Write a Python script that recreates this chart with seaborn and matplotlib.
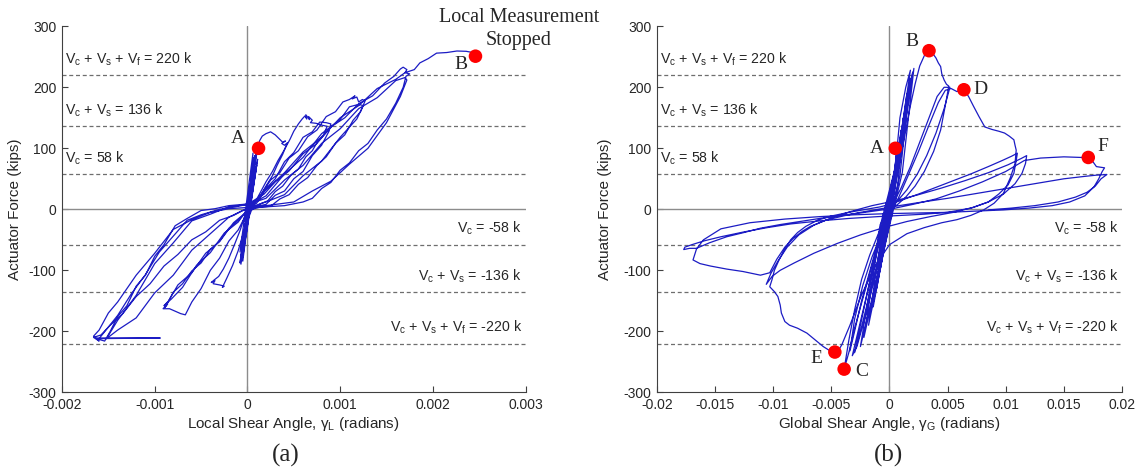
import numpy as np
import pandas as pd
import matplotlib
matplotlib.use("Agg")
import matplotlib.pyplot as plt
import seaborn as sns

# ---------------- local shear angle response (panel a) ----------------
# small elastic cycles near the origin
loc_band_g = [0, 0.00002, -0.00001, 0.00003, -0.00002, 0.00004, -0.00003, 0.00005, -0.00004,
              0.00006, -0.00005, 0.00007, -0.00002, 0.00008, -0.00006, 0.00005, -0.00004,
              0.00009, -0.00007, 0.00010, -0.00005, 0.00006, -0.00008, 0.00004, -0.00003,
              0.00007, -0.00006, 0.00003, -0.00004, 0.00008, -0.00002, 0.00011, -0.00007,
              0.00002, -0.00005, 0.00009, -0.00008, 0.00006, -0.00001, 0.00010, -0.00006,
              0.00004, -0.00003, 0.00001]
loc_band_v = [0, 20, -15, 35, -30, 45, -40, 55, -50, 65, -60, 75, -45, 80, -70, 60, -65,
              90, -80, 95, -85, 70, -88, 40, -55, 85, -75, 30, -60, 88, -30, 82, -90,
              20, -78, 66, -70, 92, -40, 72, -84, 50, -20, 0]
# cycle through point A
loc_c1_g = [0.00002, 0.00005, 0.00008, 0.00010, 0.00012, 0.00013, 0.00016, 0.00020, 0.00025,
            0.00030, 0.00034, 0.00038, 0.00041, 0.00037, 0.00040, 0.00043,
            0.00038, 0.00032, 0.00027, 0.00020, 0.00014, 0.00008, 0.00002, -0.00003,
            -0.00008, -0.00014, -0.00020, -0.00026, -0.00031, -0.00036, -0.00039, -0.00035,
            -0.00037, -0.00030, -0.00025, -0.00027, -0.00022, -0.00016, -0.00010, -0.00005,
            0.00001, 0.00006]
loc_c1_v = [10, 45, 75, 90, 98, 112, 120, 124, 127, 122, 116, 110, 112, 108, 105, 109,
            90, 72, 55, 38, 22, 10, 0, -12,
            -35, -58, -80, -98, -110, -116, -120, -117, -122, -124, -126, -128, -112, -92,
            -68, -42, -15, 5]
loc_c2_g = [0.00012, 0.00020, 0.00027, 0.00033, 0.00040, 0.00046, 0.00050, 0.00055, 0.00059,
            0.00062, 0.00064, 0.00063, 0.00067, 0.00066, 0.00070, 0.00068, 0.00074,
            0.00080, 0.00086,
            0.00082, 0.00076, 0.00070, 0.00063, 0.00055, 0.00047, 0.00038, 0.00030, 0.00022,
            0.00014, 0.00006, -0.00002,
            -0.00010, -0.00020, -0.00030, -0.00040, -0.00050, -0.00060, -0.00070, -0.00080,
            -0.00086, -0.00089, -0.00086, -0.00091, -0.00084, -0.00078, -0.00072, -0.00067,
            -0.00060, -0.00050, -0.00040, -0.00030, -0.00020, -0.00010, -0.00002, 0.00005]
loc_c2_v = [22, 45, 62, 80, 98, 115, 128, 140, 148,
            153, 148, 155, 147, 152, 146, 142, 141,
            138, 136,
            122, 112, 96, 86, 66, 56, 38, 29, 14, 9, 0, -6,
            -18, -31, -52, -66, -88, -101, -122, -136, -153, -161, -155, -163, -163, -167,
            -171, -173,
            -152, -130, -100, -80, -52, -34, -10, 6]
loc_c2b_g = [0.00010, 0.00020, 0.00030, 0.00040, 0.00050, 0.00060, 0.00070, 0.00078, 0.00085,
             0.00090, 0.00088,
             0.00080, 0.00070, 0.00060, 0.00050, 0.00040, 0.00030, 0.00020, 0.00010, 0.0,
             -0.00015, -0.00030, -0.00045, -0.00060, -0.00075, -0.00085, -0.00090,
             -0.00082, -0.00070, -0.00055, -0.00040, -0.00025, -0.00010, 0.0]
loc_c2b_v = [10, 34, 50, 78, 93, 118, 127, 143, 142, 140, 128,
             105, 88, 62, 50, 30, 23, 8, 5, -3,
             -22, -53, -72, -104, -124, -150, -158,
             -147, -128, -92, -71, -39, -21, 0]
loc_c3_g = [0.00015, 0.00025, 0.00035, 0.00045, 0.00055, 0.00065, 0.00075, 0.00085, 0.00095,
            0.00103, 0.00110, 0.00116, 0.00113, 0.00118, 0.00120, 0.00124, 0.00127,
            0.00122, 0.00114, 0.00105, 0.00095, 0.00085, 0.00075, 0.00065, 0.00055, 0.00045,
            0.00035, 0.00025, 0.00015, 0.00005, -0.00005,
            -0.00015, -0.00030, -0.00045, -0.00060, -0.00075, -0.00090, -0.00105, -0.00120,
            -0.00135, -0.00148, -0.00158, -0.00166, -0.00160, -0.00163, -0.00154,
            -0.00148, -0.00140, -0.00130, -0.00120, -0.00110, -0.00100, -0.00090, -0.00078,
            -0.00065, -0.00050, -0.00035, -0.00020, -0.00005, 0.00005]
loc_c3_v = [25, 48, 60, 84, 96, 119, 130, 152, 160, 176, 180, 186, 181, 184, 176, 180, 178,
            160, 146, 122, 108, 86, 72, 52, 41, 24, 17, 5, 4, 0, -2,
            -10, -18, -37, -50, -74, -93, -122, -143, -172, -190, -206, -210, -216, -212, -216,
            -200, -176, -158, -126, -108, -77, -58, -27, -15, -2, 1, 6, 8, 10]
loc_c3b_g = [0.00020, 0.00040, 0.00060, 0.00080, 0.00100, 0.00110, 0.00120, 0.00125,
             0.00118, 0.00100, 0.00080, 0.00060, 0.00040, 0.00020, 0.0,
             -0.00020, -0.00040, -0.00060, -0.00080, -0.00100, -0.00120, -0.00140, -0.00152,
             -0.00140, -0.00120, -0.00100, -0.00080, -0.00060, -0.00040, -0.00020, 0.0]
loc_c3b_v = [22, 58, 85, 124, 147, 168, 172, 170,
             148, 118, 79, 55, 24, 12, 2,
             -13, -40, -67, -108, -137, -178, -198, -212,
             -182, -141, -89, -55, -19, -8, 4, 8]
loc_c4_g = [0.00018, 0.00030, 0.00045, 0.00060, 0.00075, 0.00090, 0.00105, 0.00120, 0.00135,
            0.00148, 0.00158, 0.00165, 0.00168, 0.00172, 0.00170, 0.00175, 0.00171,
            0.00168, 0.00160, 0.00150, 0.00140, 0.00130, 0.00120, 0.00110, 0.00100, 0.00090,
            0.00080, 0.00070, 0.00060, 0.00040, 0.00020, 0.0, -0.00020,
            -0.00040, -0.00060, -0.00080, -0.00100, -0.00120, -0.00140, -0.00150, -0.00160,
            -0.00166, -0.00163, -0.00094, -0.00160,
            -0.00150, -0.00140, -0.00125, -0.00110, -0.00095, -0.00080, -0.00065, -0.00050,
            -0.00030, -0.00010, 0.0]
loc_c4_v = [25, 45, 63, 91, 108, 135, 150, 173, 186, 207, 218, 230, 233, 229, 224, 222, 218,
            200, 174, 148, 130, 108, 96, 76, 64, 44, 34, 18, 12, 6, 4, 3, 1,
            -5, -17, -33, -72, -108, -152, -170, -198, -208, -211, -211, -212,
            -193, -174, -138, -107, -70, -44, -18, -9, 0, 5, 8]
loc_c4b_g = [0.00020, 0.00040, 0.00060, 0.00080, 0.00100, 0.00120, 0.00140, 0.00160, 0.00170,
             0.00172, 0.00165, 0.00150, 0.00130, 0.00110, 0.00090, 0.00070, 0.00050, 0.00030,
             0.0]
loc_c4b_v = [18, 48, 72, 108, 132, 165, 183, 211, 216, 212, 185, 142, 100, 74, 46, 30, 12, 8,
             2]
# final push to point B
loc_c5_g = [0.00020, 0.00040, 0.00060, 0.00080, 0.00100, 0.00120, 0.00140, 0.00160, 0.00170,
            0.00180, 0.00186, 0.00195, 0.00204, 0.00215, 0.00226, 0.00236, 0.00243]
loc_c5_v = [32, 60, 94, 118, 150, 170, 198, 213, 224, 229, 240, 247, 256, 257, 259.5, 259, 257]

# ---------------- global shear angle response (panel b) ----------------
glb_band_g = [0, 0.0003, 0.0001, -0.0002, 0.0, 0.0005, 0.0001, -0.0004, 0.0, 0.0004, 0.0006,
              0.0002, -0.0005, -0.0001, 0.0005, 0.0008, 0.0003, -0.0008, -0.0002, 0.0006,
              0.0010, 0.0004, -0.0011, -0.0003, 0.0007, 0.0012, 0.0005, -0.0014, -0.0004,
              0.0008, 0.0015, 0.0007, -0.0018, -0.0005, 0.0010, 0.0018, 0.0009, -0.0022,
              -0.0007, 0.0012, 0.0021, 0.0011, -0.0025, -0.0008,
              0.0002, 0.0009, 0.0014, 0.0018, 0.0012, 0.0005, -0.0001, -0.0010, -0.0020,
              -0.0028, -0.0032, -0.0022, -0.0012, -0.0003, 0.0005, 0.0012, 0.0017, 0.0020,
              0.0014, 0.0007, 0.0, -0.0012, -0.0025, -0.0030, -0.0025, -0.0015, -0.0005, 0.0]
glb_band_v = [0, 40, 10, -30, 0, 60, 10, -50, 0, 60, 90, 20, -70, -5, 60, 110, 25, -100, -5,
              70, 130, 30, -130, -5, 80, 150, 35, -160, -10, 90, 190, 40, -190, -15, 110, 215,
              55, -210, -20, 120, 231, 60, -225, -25,
              10, 150, 200, 228, 150, 60, 0, -90, -170, -225, -240, -160, -80, -10, 50, 130,
              190, 225, 160, 80, 5, -100, -200, -235, -190, -100, -20, 0]
# peak B, then peak C
glb_bc_g = [0.0003, 0.0008, 0.0013, 0.0018, 0.0022, 0.0026, 0.0030, 0.0034, 0.0037, 0.0040,
            0.0042, 0.0044, 0.0045, 0.0047, 0.0049, 0.0051,
            0.0048, 0.0044, 0.0038, 0.0030, 0.0022, 0.0014, 0.0007, 0.0001, -0.0006, -0.0014,
            -0.0022, -0.0030, -0.0035, -0.0039,
            -0.0035, -0.0030, -0.0024, -0.0017, -0.0010, -0.0004, 0.0002, 0.0010, 0.0018,
            0.0026, 0.0034, 0.0041, 0.0047, 0.0052,
            0.0047, 0.0040, 0.0032, 0.0024, 0.0015, 0.0007, 0.0, -0.0008, -0.0016, -0.0024,
            -0.0030, -0.0034]
glb_bc_v = [20, 70, 120, 170, 205, 235, 252, 260, 256, 248, 240, 234, 222, 212, 205, 202,
            170, 130, 95, 62, 38, 20, 8, 0, -35, -85, -140, -195, -235, -262,
            -215, -165, -115, -75, -42, -15, 5, 35, 70, 110, 150, 185, 200, 200,
            165, 125, 88, 58, 32, 14, 2, -40, -95, -150, -200, -232]
# reload to D, strength loss, then down to E and beyond
glb_de_g = [-0.0030, -0.0023, -0.0015, -0.0007, 0.0, 0.0008, 0.0016, 0.0025, 0.0034, 0.0042,
            0.0048, 0.0053, 0.0058, 0.0064,
            0.0068, 0.0072, 0.0077, 0.0082, 0.0088, 0.0094, 0.0099, 0.0103, 0.0107, 0.0108,
            0.0109,
            0.0108, 0.0104, 0.0098, 0.0090, 0.0081, 0.0070, 0.0058, 0.0045, 0.0030, 0.0015,
            0.0, -0.0012, -0.0024, -0.0034, -0.0041, -0.0045, -0.0047,
            -0.0052, -0.0057, -0.0064, -0.0071, -0.0079, -0.0086, -0.0090, -0.0093, -0.0094,
            -0.0096, -0.0099, -0.0103, -0.0101,
            -0.0099, -0.0095, -0.0090, -0.0085, -0.0079, -0.0072, -0.0062, -0.0050, -0.0035,
            -0.0020, -0.0008, 0.0]
glb_de_v = [-180, -125, -78, -40, -10, 20, 55, 95, 138, 175, 195, 198, 193, 196,
            185, 170, 152, 135, 131, 128, 125, 120, 114, 105, 97,
            75, 52, 26, 10, -1, -10, -17, -22, -30, -40, -58, -92, -140, -190, -222, -235, -234,
            -231, -225, -214, -203, -195, -190, -184, -170, -157, -143, -135, -127, -115,
            -100, -83, -65, -50, -38, -28, -18, -11, -5, 0, 4, 8]
# cycles at about +/-0.011 rad
glb_c11_g = [0.0012, 0.0025, 0.0040, 0.0055, 0.0070, 0.0085, 0.0097, 0.0105, 0.0109, 0.0110,
             0.0109, 0.0107, 0.0102, 0.0094, 0.0085, 0.0072, 0.0055, 0.0035, 0.0015, -0.0005,
             -0.0025, -0.0045, -0.0065, -0.0082, -0.0094, -0.0101, -0.0106,
             -0.0102, -0.0096, -0.0088, -0.0078, -0.0065, -0.0050, -0.0034, -0.0015, 0.0005,
             0.0025, 0.0045, 0.0065, 0.0085, 0.0102, 0.0113, 0.0118]
glb_c11_v = [16, 25, 36, 47, 58, 70, 80, 87, 91, 92,
             80, 59, 40, 25, 12, 3, -5, -12, -20, -30, -42, -56, -72, -88, -100, -110, -123,
             -105, -85, -62, -42, -26, -14, -4, 6, 14, 24, 35, 47, 60, 73, 83, 88]
# cycles at about +/-0.018 rad, passing point F
glb_c18_g = [0.0117, 0.0114, 0.0108, 0.0098, 0.0085, 0.0070, 0.0050, 0.0030, 0.0010, -0.0010,
             -0.0035, -0.0060, -0.0085, -0.0105, -0.0125, -0.0145, -0.0160, -0.0170, -0.0176,
             -0.0177,
             -0.0172, -0.0166, -0.0155, -0.0140, -0.0125, -0.0111, -0.0094, -0.0077, -0.0060,
             -0.0042, -0.0025, -0.0010, 0.0005, 0.0020, 0.0040, 0.0060, 0.0080, 0.0100, 0.0116,
             0.0130, 0.0150, 0.0165, 0.0171, 0.0175, 0.0178, 0.0185,
             0.0183, 0.0180, 0.0176, 0.0168, 0.0155, 0.0140, 0.0120, 0.0098, 0.0075, 0.0050,
             0.0025, 0.0, -0.0030, -0.0060, -0.0090, -0.0120, -0.0145, -0.0160, -0.0166, -0.0169,
             -0.0163, -0.0154, -0.0140, -0.0126, -0.0111, -0.0103, -0.0097, -0.0090, -0.0083,
             -0.0075, -0.0068, -0.0055, -0.0040, -0.0025, -0.0010, 0.0005, 0.0025, 0.0050,
             0.0075, 0.0100, 0.0125, 0.0150, 0.0168, 0.0178, 0.0187,
             0.0182, 0.0177, 0.0170, 0.0160, 0.0145, 0.0125, 0.0105, 0.0085]
glb_c18_v = [75, 59, 42, 25, 12, 2, -5, -8, -10, -12, -15, -19, -24, -30, -37, -45, -52, -58,
             -62, -66,
             -64, -64, -55, -45, -38, -31, -25, -20, -15, -10, -6, -2, 2, 8, 17, 30, 45, 62, 80,
             84, 86, 85, 85, 78, 70, 68,
             62, 50, 37, 22, 12, 6, 2, -1, -3, -5, -6, -7, -9, -12, -16, -22, -32, -50, -65, -83,
             -89, -93, -98, -102, -108, -104, -82, -62, -48, -36, -28, -18, -11, -5, 0, 5, 11,
             18, 26, 34, 42, 50, 54, 56, 57,
             50, 38, 28, 20, 12, 6, 2, -1]

# ---------------- reference capacities and labelled states ----------------
cap_levels = [58, 136, 220]
cap_text_pos = [r"V$_\mathregular{c}$ = 58 k",
                r"V$_\mathregular{c}$ + V$_\mathregular{s}$ = 136 k",
                r"V$_\mathregular{c}$ + V$_\mathregular{s}$ + V$_\mathregular{f}$ = 220 k"]
cap_text_neg = [r"V$_\mathregular{c}$ = -58 k",
                r"V$_\mathregular{c}$ + V$_\mathregular{s}$ = -136 k",
                r"V$_\mathregular{c}$ + V$_\mathregular{s}$ + V$_\mathregular{f}$ = -220 k"]

loc_pt_names = ["A", "B"]
loc_pt_g = [0.00012, 0.00246]
loc_pt_v = [100, 251]
loc_lab_g = [-0.000104, 0.0023]
loc_lab_v = [116, 237]

glb_pt_names = ["A", "B", "C", "D", "E", "F"]
glb_pt_g = [0.0005, 0.0034, -0.0039, 0.0064, -0.0047, 0.0171]
glb_pt_v = [100, 260, -262, 196, -234, 85]
glb_lab_g = [-0.0011, 0.0019, -0.0024, 0.0078, -0.0063, 0.01835]
glb_lab_v = [100, 275, -266, 197, -244, 103]

loc_xticks = [-0.002, -0.001, 0, 0.001, 0.002, 0.003]
loc_xticklabels = ["-0.002", "-0.001", "0", "0.001", "0.002", "0.003"]
glb_xticks = [-0.02, -0.015, -0.01, -0.005, 0, 0.005, 0.01, 0.015, 0.02]
glb_xticklabels = ["-0.02", "-0.015", "-0.01", "-0.005", "0", "0.005", "0.01", "0.015", "0.02"]
yticks = [-300, -200, -100, 0, 100, 200, 300]
yticklabels = ["-300", "-200", "-100", "0", "100", "200", "300"]

# ---------------- styling ----------------
sns.set_style("ticks")
plt.rcParams.update({
    "font.family": ["Liberation Sans", "DejaVu Sans"],
    "mathtext.fontset": "custom",
    "mathtext.rm": "Liberation Sans",
    "xtick.direction": "in",
    "ytick.direction": "in",
    "axes.edgecolor": "#404040",
    "xtick.color": "#404040",
    "ytick.color": "#404040",
    "xtick.labelcolor": "#262626",
    "ytick.labelcolor": "#262626",
})
SERIF = ["Liberation Serif", "DejaVu Serif"]
CURVE = "#1c1cc4"

fig = plt.figure(figsize=(11.4, 4.73), dpi=100)
ax_l = fig.add_axes([0.0544, 0.1706, 0.4066, 0.7738])
ax_r = fig.add_axes([0.5763, 0.1706, 0.4079, 0.7738])


def concat(*parts):
    return np.concatenate([np.asarray(p, dtype=float) for p in parts])


local_df = pd.DataFrame({
    "gamma": concat(loc_band_g, loc_c1_g, loc_c2_g, loc_c2b_g, loc_c3_g, loc_c3b_g,
                    loc_c4_g, loc_c4b_g, loc_c5_g),
    "force": concat(loc_band_v, loc_c1_v, loc_c2_v, loc_c2b_v, loc_c3_v, loc_c3b_v,
                    loc_c4_v, loc_c4b_v, loc_c5_v),
})
global_df = pd.DataFrame({
    "gamma": concat(glb_band_g, glb_bc_g, glb_de_g, glb_c11_g, glb_c18_g),
    "force": concat(glb_band_v, glb_bc_v, glb_de_v, glb_c11_v, glb_c18_v),
})


def dress(ax, xlim, xticks, xticklabels):
    ax.set_xlim(*xlim)
    ax.set_ylim(-300, 300)
    ax.axhline(0, color="#8c8c8c", lw=1.0, zorder=1)
    ax.axvline(0, color="#8c8c8c", lw=1.0, zorder=1)
    for lv in cap_levels:
        for s in (1, -1):
            ax.axhline(s * lv, color="#6e6e6e", lw=0.9, ls=(0, (3.2, 2.2)), zorder=1)
    xr = xlim[1] - xlim[0]
    for lv, txt in zip(cap_levels, cap_text_pos):
        ax.text(xlim[0] + 0.006 * xr, lv + 19, txt, fontsize=10.2, color="#262626",
                ha="left", va="baseline")
    for lv, txt in zip(cap_levels, cap_text_neg):
        ax.text(xlim[1] - 0.008 * xr, -lv + 19, txt, fontsize=10.2, color="#262626",
                ha="right", va="baseline")
    ax.set_xticks(xticks)
    ax.set_xticklabels(xticklabels)
    ax.set_yticks(yticks)
    ax.set_yticklabels(yticklabels)
    ax.tick_params(labelsize=10, length=4, width=0.8, pad=4)
    sns.despine(ax=ax)


dress(ax_l, (-0.002, 0.003), loc_xticks, loc_xticklabels)
dress(ax_r, (-0.02, 0.02), glb_xticks, glb_xticklabels)

sns.lineplot(data=local_df, x="gamma", y="force", sort=False, estimator=None,
             color=CURVE, lw=0.9, ax=ax_l, zorder=2)
sns.lineplot(data=global_df, x="gamma", y="force", sort=False, estimator=None,
             color=CURVE, lw=0.9, ax=ax_r, zorder=2)

ax_l.set_xlabel(r"Local Shear Angle, γ$_\mathregular{L}$ (radians)", fontsize=11,
                color="#262626", labelpad=2)
ax_r.set_xlabel(r"Global Shear Angle, γ$_\mathregular{G}$ (radians)", fontsize=11,
                color="#262626", labelpad=2)
for ax, lx in ((ax_l, -0.086), (ax_r, -0.096)):
    ax.set_ylabel("Actuator Force (kips)", fontsize=11, color="#262626")
    ax.yaxis.set_label_coords(lx, 0.5)

sns.scatterplot(x=loc_pt_g, y=loc_pt_v, ax=ax_l, color="#ff0000", s=95,
                edgecolor="none", zorder=5, clip_on=False)
sns.scatterplot(x=glb_pt_g, y=glb_pt_v, ax=ax_r, color="#ff0000", s=95,
                edgecolor="none", zorder=5, clip_on=False)
for name, gx, gy in zip(loc_pt_names, loc_lab_g, loc_lab_v):
    ax_l.text(gx, gy, name, family=SERIF, fontsize=14, ha="center", va="center", zorder=6)
for name, gx, gy in zip(glb_pt_names, glb_lab_g, glb_lab_v):
    ax_r.text(gx, gy, name, family=SERIF, fontsize=14, ha="center", va="center", zorder=6)

fig.text(0.4553, 0.962, "Local Measurement", family=SERIF, fontsize=14.5,
         ha="center", va="center")
fig.text(0.4553, 0.915, "Stopped", family=SERIF, fontsize=14.5, ha="center", va="center")
fig.text(0.2504, 0.037, "(a)", family=SERIF, fontsize=18, ha="center", va="center")
fig.text(0.779, 0.037, "(b)", family=SERIF, fontsize=18, ha="center", va="center")

fig.savefig("out.png", dpi=100)
